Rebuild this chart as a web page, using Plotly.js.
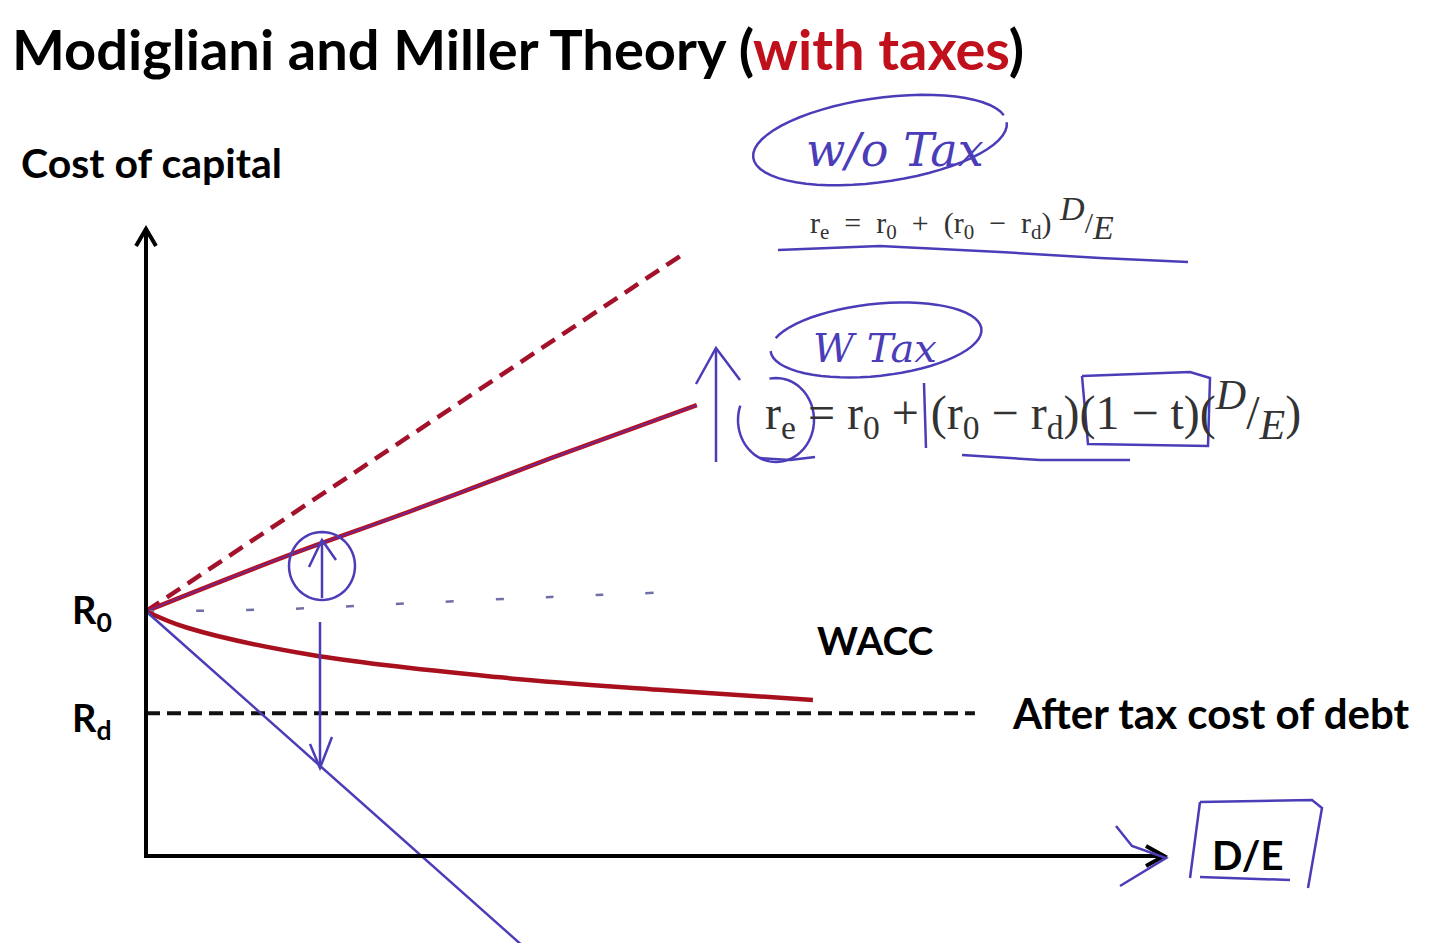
<!DOCTYPE html>
<html><head><meta charset="utf-8">
<script src="https://cdn.plot.ly/plotly-3.0.1.min.js"></script>
<style>html,body{margin:0;padding:0;background:#fff;}#chart{width:1449px;height:943px;}</style>
</head><body><div id="chart"></div>
<script>
// ---- data (D/E on x, cost of capital in % on y) ----
const R0 = 12;
const Rd = 7;
const noTaxDE = [0, 2.0];
const noTaxRe = [12, 29.6];
const withTaxDE = [0, 0.5, 1.0, 1.5, 2.04];
const withTaxRe = [12, 14.6, 17.0, 19.5, 22.1];
const waccNoTaxDE = [0, 0.5, 1.0, 1.5, 1.88];
const waccNoTaxVal = [12, 12.1, 12.4, 12.7, 12.9];
const waccTaxDE = [0, 0.15, 0.615, 1.3, 1.9, 2.47];
const waccTaxVal = [12, 11.2, 9.85, 8.77, 8.15, 7.65];
const rdDE = [0, 3.07];
const rdVal = [Rd, Rd];
const debtLineDE = [0, 1.42];
const debtLineVal = [12, -4.7];

const BLUE = '#4b3cb8';
const W = 1449, H = 943;
const X = p => p / W, Y = p => 1 - p / H;
function poly(pts){ return pts.map((p,i)=>(i?'L':'M')+X(p[0]).toFixed(5)+','+Y(p[1]).toFixed(5)).join(' '); }
function ell(cx,cy,rx,ry,rot,a0,a1){
  const pts=[]; const r=rot*Math.PI/180; const n=60;
  for(let i=0;i<=n;i++){const t=(a0+(a1-a0)*i/n)*Math.PI/180;
    const x=rx*Math.cos(t), y=ry*Math.sin(t);
    pts.push([cx+x*Math.cos(r)-y*Math.sin(r), cy+x*Math.sin(r)+y*Math.cos(r)]);}
  return pts;
}
function sh(pts,color,width){ return {type:'path',xref:'paper',yref:'paper',path:poly(pts),line:{color:color||BLUE,width:width||2.5}}; }

const traces = [
  {x:noTaxDE,y:noTaxRe,mode:'lines',line:{color:'#a3112b',width:4.5,dash:'16px,9px'},hoverinfo:'skip'},
  {x:withTaxDE,y:withTaxRe,mode:'lines',line:{color:'#b8111f',width:4.5,shape:'spline'},hoverinfo:'skip'},
  {x:withTaxDE,y:withTaxRe,mode:'lines',line:{color:'#6a2a9a',width:1.5,shape:'spline'},hoverinfo:'skip'},
  {x:waccNoTaxDE,y:waccNoTaxVal,mode:'lines',line:{color:'#6f6fa6',width:2.5,dash:'8px,42px',shape:'spline'},hoverinfo:'skip'},
  {x:waccTaxDE,y:waccTaxVal,mode:'lines',line:{color:'#a8101e',width:4.5,shape:'spline'},hoverinfo:'skip'},
  {x:rdDE,y:rdVal,mode:'lines',line:{color:'#111',width:4,dash:'14px,7px'},hoverinfo:'skip'},
  {x:debtLineDE,y:debtLineVal,mode:'lines',line:{color:BLUE,width:2.5},hoverinfo:'skip'}
];

const shapes = [
  // axes
  sh([[146,858],[146,230]],'#000',4),
  sh([[136,246],[146,229],[156,246]],'#000',4),
  sh([[144,856],[1162,856]],'#000',4),
  sh([[1146,846],[1164,856],[1146,866]],'#000',4),
  sh([[1116,826],[1132,846],[1166,858],[1120,886]]),
  // w/o Tax ellipse + underline
  sh(ell(880,140,128,42,-8,0,350)),
  sh([[778,250],[880,246],[1000,252],[1100,258],[1188,262]]),
  // W Tax loop
  sh(ell(876,340,106,36,-6,-160,180)),
  // circle around r_e
  sh(ell(776,420,38,42,0,-100,200)),
  sh([[760,458],[790,460],[815,457]]),
  // box around (1-t)
  sh([[1082,376],[1190,372],[1210,378],[1208,446],[1088,444],[1082,376]]),
  // underline (r0-rd)
  sh([[962,455],[1040,460],[1130,460]]),
  // stroke by +
  sh([[924,383],[926,448]]),
  // up arrow left of formula
  sh([[716,462],[716,348]]),
  sh([[696,384],[716,348],[740,380]]),
  // circle on re line + up arrow
  sh(ell(322,566,33,34,0,0,360)),
  sh([[322,598],[322,540]]),
  sh([[309,567],[322,540],[336,560]]),
  // down arrow
  sh([[320,622],[320,768]]),
  sh([[310,744],[320,768],[332,737]]),
  // D/E box
  sh([[1200,802],[1312,800],[1322,808],[1308,888]]),
  sh([[1200,802],[1190,878]]),
  sh([[1200,877],[1290,880]])
];

const base = {xref:'paper',yref:'paper',showarrow:false,font:{family:'Lato, sans-serif',color:'#000',size:41,weight:700}};
function ann(text,px,py,xa,extra){ return Object.assign({},base,{text:text,x:X(px),y:Y(py),xanchor:xa||'left',yanchor:'middle'},extra||{}); }

const f1 = "r<sub>e</sub>&nbsp; =&nbsp; r<sub>0</sub>&nbsp; +&nbsp; (r<sub>0</sub>&nbsp; −&nbsp; r<sub>d</sub>)<sup><span style='font-size:34px'><i> D</i></span></sup>/<sub><span style='font-size:34px'><i>E</i></span></sub>";
const f2 = "r<sub>e</sub> = r<sub>0</sub> + (r<sub>0</sub> − r<sub>d</sub>)(1 − t)(<sup><span style='font-size:42px'><i>D</i></span></sup>/<sub><span style='font-size:42px'><i>E</i></span></sub>)";

const annotations = [
  ann("Modigliani and Miller Theory (<span style='color:#c0101c'>with taxes</span>)",10,48,'left',{font:{family:'Lato, sans-serif',size:56,weight:700,color:'#000'}}),
  ann('Cost of capital',19,162,'left',{font:{family:'Lato, sans-serif',size:41,weight:700,color:'#000'}}),
  ann('R<sub>0</sub>',70,612,'left',{font:{family:'Lato, sans-serif',size:38,weight:700,color:'#000'}}),
  ann('R<sub>d</sub>',70,720,'left',{font:{family:'Lato, sans-serif',size:38,weight:700,color:'#000'}}),
  ann('WACC',875,640,'center',{font:{family:'Lato, sans-serif',size:39,weight:700,color:'#000'}}),
  ann('After tax cost of debt',1010,713,'left',{font:{family:'Lato, sans-serif',size:42,weight:700,color:'#000'}}),
  ann('D/E',1247,855,'center',{font:{family:'Lato, sans-serif',size:40,weight:700,color:'#000'}}),
  ann('w/o Tax',895,150,'center',{font:{family:'DejaVu Serif, serif',size:46,color:BLUE,style:'italic'}}),
  ann('W Tax',875,348,'center',{font:{family:'DejaVu Serif, serif',size:40,color:BLUE,style:'italic'}}),
  ann(f1,808,218,'left',{font:{family:'Liberation Serif, serif',size:30,color:'#333'}}),
  ann(f2,763,410,'left',{font:{family:'Liberation Serif, serif',size:48,color:'#333'}})
];

const layout = {
  width:W,height:H,margin:{l:0,r:0,t:0,b:0},paper_bgcolor:'#fff',plot_bgcolor:'#fff',showlegend:false,
  xaxis:{range:[-146/270,1303/270],visible:false,fixedrange:true},
  yaxis:{range:[-87/20.4,856/20.4],visible:false,fixedrange:true},
  shapes:shapes,annotations:annotations
};
Plotly.newPlot('chart',traces,layout,{displayModeBar:false,staticPlot:true});
</script></body></html>
